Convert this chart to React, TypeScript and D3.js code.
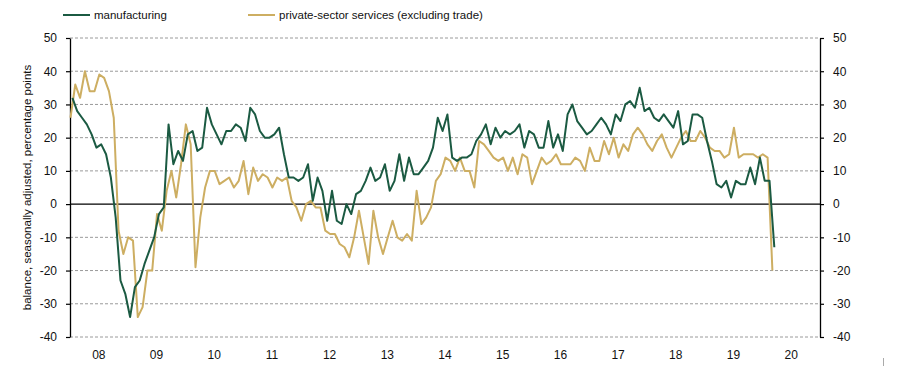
import React, { useEffect, useRef } from "react";
import * as d3 from "d3";

// monthly balances, Jan 2008 .. Mar 2020
const manufacturing = [
  32, 28, 26, 24, 21, 17, 18, 15, 8, -4, -23, -27,
  -34, -25, -23, -18, -14, -10, -3, -1, 24, 12, 16, 13,
  21, 22, 16, 17, 29, 24, 21, 18, 22, 22, 24, 23,
  19, 29, 27, 22, 20, 20, 21, 23, 15, 8, 8, 7,
  8, 12, 1, 8, 4, -5, 4, -5, -6, 0, -3, 3,
  4, 7, 11, 7, 8, 12, 4, 7, 15, 7, 14, 9,
  9, 11, 13, 17, 26, 22, 27, 14, 13, 14, 14, 15,
  19, 21, 24, 18, 23, 20, 22, 21, 22, 24, 17, 22,
  21, 17, 17, 25, 17, 21, 16, 27, 30, 25, 23, 21,
  22, 24, 26, 24, 21, 27, 25, 30, 31, 29, 35, 28,
  29, 26, 25, 27, 25, 23, 28, 18, 19, 27, 27, 26,
  19, 13, 6, 5, 7, 2, 7, 6, 6, 11, 6, 14,
  7, 7, -13,
];

const services = [
  26, 36, 32, 40, 34, 34, 39, 38, 34, 26, -8, -15,
  -10, -11, -34, -31, -20, -20, -3, -8, 4, 10, 2, 12,
  24, 18, -19, -4, 5, 10, 10, 6, 7, 8, 5, 7,
  13, 3, 11, 7, 9, 8, 5, 8, 7, 8, 1, -1,
  -5, 0, 1, -1, -1, -8, -9, -9, -12, -13, -16, -10,
  -2, -10, -18, -2, -10, -15, -10, -5, -10, -11, -9, -11,
  4, -6, -4, -1, 7, 9, 14, 13, 10, 14, 10, 10,
  5, 19, 18, 16, 14, 13, 14, 10, 14, 9, 15, 14,
  6, 10, 14, 12, 13, 15, 12, 12, 12, 14, 13, 10,
  17, 13, 13, 19, 15, 20, 14, 18, 16, 21, 23, 21,
  18, 16, 19, 21, 17, 14, 17, 20, 22, 19, 19, 22,
  20, 17, 16, 16, 14, 15, 23, 14, 15, 15, 15, 14,
  15, 14, -20,
];

const yearLabels = ["08", "09", "10", "11", "12", "13", "14", "15", "16", "17", "18", "19", "20"];
const yTicks = [-40, -30, -20, -10, 0, 10, 20, 30, 40, 50];

const GREEN = "#1b5a42";
const GOLD = "#cdae62";
const FONT = "'Liberation Sans', Arial, sans-serif";

const Chart = () => {
  const ref = useRef<SVGSVGElement>(null);

  useEffect(() => {
    const svg = d3.select(ref.current);
    svg.selectAll("*").remove();

    const left = 70;
    const right = 820;

    const x = d3.scaleLinear().domain([0, yearLabels.length * 12]).range([left, right]);
    const y = d3.scaleLinear().domain([-40, 50]).range([337, 38]);

    // grid
    svg
      .append("g")
      .selectAll("line")
      .data(yTicks.filter((t) => t !== 0))
      .join("line")
      .attr("x1", left)
      .attr("x2", right)
      .attr("y1", (d) => y(d))
      .attr("y2", (d) => y(d))
      .attr("stroke", "#9a9a9a")
      .attr("stroke-width", 1)
      .attr("stroke-dasharray", "3,2");

    svg
      .append("line")
      .attr("x1", left)
      .attr("x2", right)
      .attr("y1", y(0))
      .attr("y2", y(0))
      .attr("stroke", "#000")
      .attr("stroke-width", 1.3);

    const styleAxis = (g) => {
      g.select(".domain").attr("stroke", "#000").attr("stroke-width", 1.3);
      g.selectAll(".tick line").attr("stroke", "#000").attr("stroke-width", 1.2);
      g.selectAll(".tick text")
        .attr("fill", "#111")
        .style("font-family", FONT)
        .style("font-size", "12px");
    };

    const fmt = (d) => String(d); // plain hyphen, like the original

    svg
      .append("g")
      .attr("transform", `translate(${left},0)`)
      .call(d3.axisLeft(y).tickValues(yTicks).tickFormat(fmt).tickSize(4).tickSizeOuter(0).tickPadding(9))
      .call(styleAxis);

    svg
      .append("g")
      .attr("transform", `translate(${right},0)`)
      .call(d3.axisRight(y).tickValues(yTicks).tickFormat(fmt).tickSize(4).tickSizeOuter(0).tickPadding(9))
      .call(styleAxis);

    // year labels centred in each year
    svg
      .append("g")
      .selectAll("text")
      .data(yearLabels)
      .join("text")
      .attr("x", (d, i) => x(i * 12 + 6))
      .attr("y", 359)
      .attr("text-anchor", "middle")
      .attr("fill", "#111")
      .style("font-family", FONT)
      .style("font-size", "12px")
      .text((d) => d);

    // y title
    svg
      .append("text")
      .attr("transform", `translate(31,${y(5)}) rotate(-90)`)
      .attr("text-anchor", "middle")
      .attr("fill", "#111")
      .style("font-family", FONT)
      .style("font-size", "11.5px")
      .text("balance, seasonally adjusted, percentage points");

    const line = (offset) =>
      d3
        .line<number>()
        .x((d, i) => x(i + offset))
        .y((d) => y(d));

    svg
      .append("path")
      .datum(services)
      .attr("fill", "none")
      .attr("stroke", GOLD)
      .attr("stroke-width", 2)
      .attr("stroke-linejoin", "round")
      .attr("d", line(0.1));

    svg
      .append("path")
      .datum(manufacturing)
      .attr("fill", "none")
      .attr("stroke", GREEN)
      .attr("stroke-width", 2)
      .attr("stroke-linejoin", "round")
      .attr("d", line(0.5));

    // legend
    const legend = [
      { name: "manufacturing", color: GREEN, x: 63 },
      { name: "private-sector services (excluding trade)", color: GOLD, x: 248 },
    ];
    const lg = svg.append("g").selectAll("g").data(legend).join("g");
    lg.append("line")
      .attr("x1", (d) => d.x)
      .attr("x2", (d) => d.x + 27)
      .attr("y1", 15)
      .attr("y2", 15)
      .attr("stroke", (d) => d.color)
      .attr("stroke-width", 2);
    lg.append("text")
      .attr("x", (d) => d.x + 31)
      .attr("y", 19)
      .attr("fill", "#111")
      .style("font-family", FONT)
      .style("font-size", "11.5px")
      .text((d) => d.name);

    // small mark bottom right
    svg
      .append("line")
      .attr("x1", 883.5)
      .attr("x2", 883.5)
      .attr("y1", 358)
      .attr("y2", 366)
      .attr("stroke", "#aaa")
      .attr("stroke-width", 1);
  }, []);

  return (
    <svg
      ref={ref}
      width={900}
      height={370}
      style={{ position: "absolute", left: 0, top: 0, background: "#fff" }}
    ></svg>
  );
};

export default function App() {
  return <Chart />;
}
